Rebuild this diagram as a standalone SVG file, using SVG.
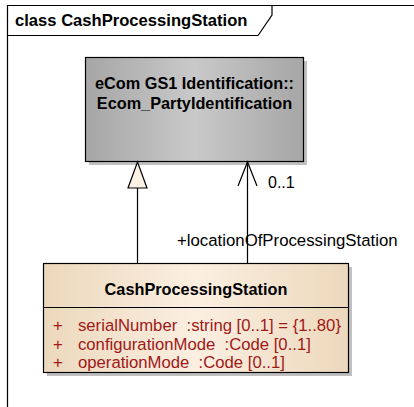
<svg xmlns="http://www.w3.org/2000/svg" width="414" height="407" viewBox="0 0 414 407">
<defs>
<linearGradient id="gGray" x1="0" y1="0" x2="1" y2="0">
<stop offset="0" stop-color="#a6a6a6"/>
<stop offset="0.5" stop-color="#c9c9c9"/>
<stop offset="1" stop-color="#a6a6a6"/>
</linearGradient>
<linearGradient id="gTan" x1="0" y1="0" x2="1" y2="0">
<stop offset="0" stop-color="#ecd8bc"/>
<stop offset="0.5" stop-color="#fbefe1"/>
<stop offset="1" stop-color="#ecd8bc"/>
</linearGradient>
<style>
.t{font-family:"Liberation Sans",Arial,sans-serif;}
.b{font-weight:bold;font-size:16.3px;fill:#000;}
.lbl{font-size:16.8px;fill:#000;}
.attr{font-size:16.7px;fill:#a01818;}
.ln{stroke:#000;stroke-width:1.2;fill:none;}
.sh{fill:#c0c0c0;}
</style>
</defs>
<rect width="414" height="407" fill="#fff"/>
<g id="frame">
<path d="M7.5 407 V5.5 H414" class="ln"/>
<path d="M7.5 35.5 H258 L272 15 V5.5" class="ln"/>
<text x="15" y="26" class="t b" style="font-size:16.6px">class CashProcessingStation</text>
</g>
<g id="ecom">
<rect x="89" y="61" width="218" height="104" class="sh"/>
<rect x="85.5" y="57.5" width="218" height="104" fill="url(#gGray)" stroke="#000" stroke-width="1.2"/>
<text x="194.5" y="89" text-anchor="middle" class="t b">eCom GS1 Identification::</text>
<text x="194.5" y="109" text-anchor="middle" class="t b">Ecom_PartyIdentification</text>
</g>
<g id="station">
<rect x="47" y="267" width="305" height="109" class="sh"/>
<rect x="43.5" y="263.5" width="305" height="109" fill="url(#gTan)" stroke="#000" stroke-width="1.2"/>
<line x1="43.5" y1="307.5" x2="348.5" y2="307.5" class="ln"/>
<text x="196" y="295" text-anchor="middle" class="t b">CashProcessingStation</text>
<text x="53" y="331" class="t attr">+</text>
<text x="78" y="331" class="t attr" xml:space="preserve">serialNumber  :string [0..1] = {1..80}</text>
<text x="53" y="349.5" class="t attr">+</text>
<text x="78" y="349.5" class="t attr" xml:space="preserve">configurationMode  :Code [0..1]</text>
<text x="53" y="368" class="t attr">+</text>
<text x="78" y="368" class="t attr" xml:space="preserve">operationMode  :Code [0..1]</text>
</g>
<g id="connectors">
<line x1="137.5" y1="188" x2="137.5" y2="263.5" class="ln"/>
<path d="M137.5 162 L128 188 H147 Z" fill="#fbf1e4" stroke="#000" stroke-width="1.2"/>
<line x1="247.5" y1="162" x2="247.5" y2="263.5" class="ln"/>
<path d="M238 186 L247.5 162 L257 186" class="ln"/>
<text x="268" y="188" class="t lbl" style="font-size:16px">0..1</text>
<text x="177" y="246" class="t lbl">+locationOfProcessingStation</text>
</g>
</svg>
